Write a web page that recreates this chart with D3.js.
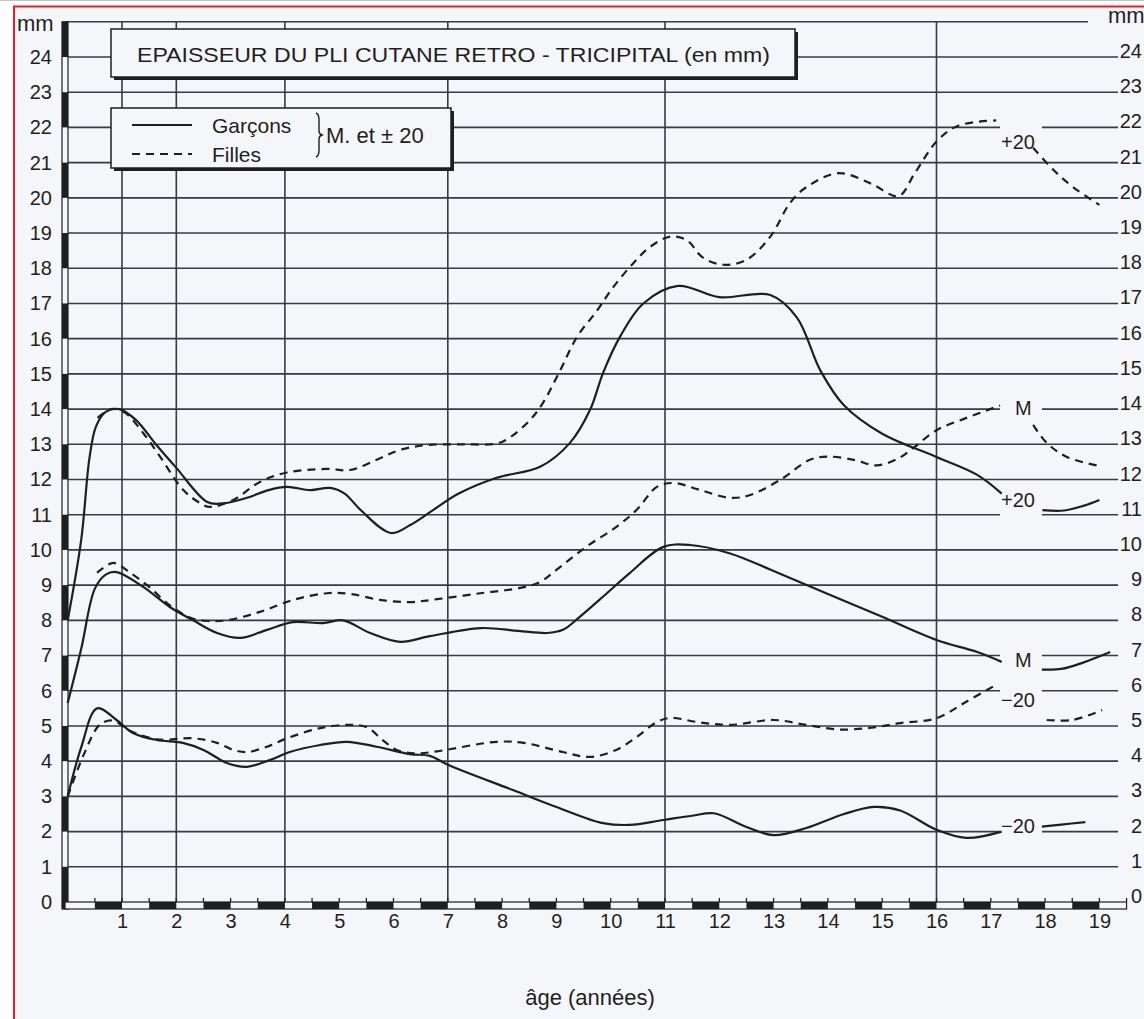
<!DOCTYPE html>
<html>
<head>
<meta charset="utf-8">
<script src="https://cdn.jsdelivr.net/npm/d3@7"></script>
<style>
  body { margin: 0; background: #fff; }
  svg { display: block; font-family: "Liberation Sans", Arial, sans-serif; }
</style>
</head>
<body>
<div id="chart"></div>
<script>
// ---- données (âge en années, épaisseur en mm) ----
const xTicks = [1, 2, 3, 4, 5, 6, 7, 8, 9, 10, 11, 12, 13, 14, 15, 16, 17, 18, 19];
const yTicks = [0, 1, 2, 3, 4, 5, 6, 7, 8, 9, 10, 11, 12, 13, 14, 15, 16, 17, 18, 19, 20, 21, 22, 23, 24];
const vGrid = [1, 2, 4, 7, 11, 16];          // lignes verticales pleines
const gapLines = [22, 14, 11, 7, 6, 2];      // lignes coupées par les étiquettes de droite

const title = "EPAISSEUR DU PLI CUTANE RETRO - TRICIPITAL (en mm)";
const legendItems = ["Garçons", "Filles"];
const legendNote = "M. et ± 20";
const xTitle = "âge (années)";

// Garçons (trait plein)
const boysPlus = [[0, 8.0], [0.25, 10.3], [0.4, 12.6], [0.52, 13.5], [0.7, 13.92], [0.95, 14.0], [1.25, 13.7],
  [1.65, 12.95], [2.0, 12.33], [2.57, 11.36], [2.85, 11.32], [3.3, 11.48], [3.7, 11.7], [4.04, 11.79],
  [4.47, 11.7], [4.83, 11.76], [5.1, 11.6], [5.39, 11.14], [5.95, 10.48], [6.3, 10.7], [6.7, 11.1],
  [7.2, 11.6], [7.9, 12.05], [8.7, 12.36], [9.25, 13.04], [9.62, 13.98], [9.86, 15.03], [10.17, 16.05],
  [10.6, 17.0], [11.24, 17.5], [12.0, 17.18], [12.94, 17.24], [13.43, 16.6], [13.86, 15.1], [14.3, 14.1],
  [15.0, 13.3], [16.0, 12.64], [16.75, 12.13], [17.2, 11.6]];
const boysPlusTail = [[17.95, 11.13], [18.35, 11.12], [18.7, 11.25], [19.0, 11.42]];

const boysM = [[0, 5.65], [0.25, 7.2], [0.5, 8.9], [0.7, 9.3], [0.9, 9.37], [1.39, 8.95], [1.88, 8.38],
  [2.31, 8.0], [2.75, 7.64], [3.18, 7.5], [3.67, 7.73], [4.15, 7.95], [4.7, 7.92], [5.07, 8.0], [5.57, 7.64],
  [6.12, 7.39], [6.67, 7.55], [7.6, 7.78], [8.3, 7.7], [8.83, 7.64], [9.12, 7.73], [9.43, 8.1], [9.93, 8.77],
  [10.35, 9.34], [10.96, 10.08], [11.46, 10.14], [12.2, 9.9], [13.0, 9.4], [14.0, 8.75], [15.0, 8.1],
  [16.0, 7.44], [16.75, 7.1], [17.2, 6.82]];
const boysMTail = [[17.94, 6.6], [18.3, 6.62], [18.7, 6.8], [19.2, 7.1]];

const boysMinus = [[0, 3.0], [0.25, 4.4], [0.54, 5.5], [0.9, 5.17], [1.2, 4.8], [1.64, 4.6], [2.12, 4.52],
  [2.5, 4.32], [2.93, 3.95], [3.3, 3.84], [3.72, 4.03], [4.09, 4.26], [4.65, 4.46], [5.14, 4.55], [5.69, 4.41],
  [6.3, 4.2], [6.67, 4.15], [7.0, 3.9], [8.2, 3.18], [9.0, 2.7], [9.86, 2.24], [10.35, 2.19], [10.97, 2.33],
  [11.5, 2.45], [11.9, 2.52], [12.5, 2.13], [13.0, 1.9], [13.6, 2.1], [14.3, 2.5], [14.85, 2.7], [15.33, 2.6],
  [16.0, 2.05], [16.55, 1.82], [17.2, 2.0]];
const boysMinusTail = [[17.94, 2.14], [18.3, 2.2], [18.74, 2.27]];

// Filles (tirets)
const girlsPlus = [[0.55, 13.75], [0.8, 14.0], [1.05, 13.9], [1.4, 13.3], [1.7, 12.65], [2.13, 11.7],
  [2.44, 11.33], [2.62, 11.22], [3.05, 11.42], [3.54, 11.93], [4.04, 12.2], [4.77, 12.3], [5.2, 12.27],
  [5.69, 12.56], [6.12, 12.84], [6.62, 12.98], [7.3, 13.0], [7.9, 13.02], [8.15, 13.2], [8.52, 13.7],
  [8.75, 14.17], [9.07, 15.1], [9.38, 16.05], [9.75, 16.8], [10.05, 17.47], [10.42, 18.15], [10.72, 18.6],
  [11.1, 18.9], [11.4, 18.8], [11.7, 18.3], [12.07, 18.1], [12.5, 18.24], [12.94, 18.9], [13.3, 19.85],
  [13.6, 20.3], [14.2, 20.7], [14.8, 20.4], [15.3, 20.05], [15.6, 20.7], [16.0, 21.6], [16.4, 22.05],
  [17.1, 22.2]];
const girlsPlusTail = [[17.78, 21.42], [18.15, 20.8], [18.52, 20.3], [19.0, 19.8]];

const girlsM = [[0.54, 9.35], [0.84, 9.63], [1.15, 9.35], [1.5, 8.95], [1.9, 8.4], [2.3, 8.05], [2.6, 7.98],
  [2.93, 8.0], [3.54, 8.24], [4.15, 8.58], [4.77, 8.77], [5.2, 8.75], [5.75, 8.58], [6.3, 8.52], [6.8, 8.6],
  [7.6, 8.77], [8.33, 8.92], [8.7, 9.09], [9.0, 9.43], [9.55, 10.09], [10.1, 10.65], [10.48, 11.14],
  [10.85, 11.79], [11.16, 11.9], [11.65, 11.7], [12.2, 11.48], [12.57, 11.56], [13.12, 11.99], [13.67, 12.56],
  [14.0, 12.65], [14.5, 12.55], [14.9, 12.4], [15.3, 12.6], [15.6, 12.93], [16.0, 13.4], [16.55, 13.75],
  [17.17, 14.1]];
const girlsMTail = [[17.78, 13.55], [18.03, 13.04], [18.4, 12.64], [18.95, 12.4]];

const girlsMinus = [[0, 3.0], [0.3, 4.2], [0.6, 5.05], [0.85, 5.15], [1.1, 4.9], [1.64, 4.62], [2.31, 4.65],
  [2.75, 4.52], [3.05, 4.32], [3.3, 4.26], [3.67, 4.41], [4.04, 4.65], [4.65, 4.94], [5.14, 5.03], [5.5, 4.97],
  [5.8, 4.6], [6.06, 4.32], [6.4, 4.22], [6.8, 4.28], [7.9, 4.55], [8.4, 4.52], [9.12, 4.26], [9.62, 4.12],
  [10.1, 4.32], [10.48, 4.69], [10.85, 5.11], [11.1, 5.23], [11.6, 5.11], [12.2, 5.03], [13.0, 5.17],
  [13.6, 5.03], [14.2, 4.9], [14.8, 4.95], [15.33, 5.08], [16.0, 5.22], [16.55, 5.69], [17.1, 6.17]];
const girlsMinusTail = [[18.03, 5.17], [18.5, 5.17], [19.05, 5.45]];

// étiquettes en bout de courbe : texte, âge, valeur
const endLabels = [["+20", 17.5, 21.6], ["M", 17.6, 14.05], ["+20", 17.5, 11.42],
  ["M", 17.6, 6.88], ["\u221220", 17.5, 5.74], ["\u221220", 17.5, 2.16]];

(function () {
  const width = 1144, height = 1019;
  const paper = "#f4f6fa";
  const ink = "#1f1f22";
  const gridInk = "#3a3a42";

  const x = d3.scaleLinear().domain([0, 19]).range([67.7, 1099.4]);
  const y = d3.scaleLinear().domain([0, 25]).range([902, 21.8]);

  const svg = d3.select("#chart").append("svg")
    .attr("width", width).attr("height", height);

  // fond et cadre du scan
  svg.append("rect").attr("width", width).attr("height", height).attr("fill", "#fff");
  svg.append("rect").attr("x", 15).attr("y", 7).attr("width", width - 15).attr("height", height - 7).attr("fill", paper);
  svg.append("line").attr("x1", 0).attr("x2", width).attr("y1", 0.5).attr("y2", 0.5).attr("stroke", "#c4c4c4");
  svg.append("path").attr("d", `M14,${height}V6.5H${width}`).attr("fill", "none").attr("stroke", "#ee1c24").attr("stroke-width", 2);

  const grid = svg.append("g").attr("stroke", gridInk).attr("stroke-width", 1.6);

  // lignes horizontales
  yTicks.filter(v => v > 0).forEach(v => {
    const segs = gapLines.includes(v) ? [[68, 1000], [1042, 1118]] : [[68, 1118]];
    segs.forEach(s => grid.append("line")
      .attr("x1", s[0]).attr("x2", s[1]).attr("y1", y(v)).attr("y2", y(v)));
  });
  grid.append("line").attr("x1", 65).attr("x2", 1088).attr("y1", y(25)).attr("y2", y(25));

  // lignes verticales
  vGrid.forEach(a => grid.append("line")
    .attr("x1", x(a)).attr("x2", x(a)).attr("y1", y(25)).attr("y2", y(0)));

  // axe vertical en barre alternée
  const yBar = svg.append("g");
  yBar.append("rect").attr("x", 62).attr("y", y(25)).attr("width", 6).attr("height", y(0) + 7 - y(25))
    .attr("fill", paper).attr("stroke", ink).attr("stroke-width", 1.2);
  d3.range(0, 25).filter(k => k % 2 === 0).forEach(k => yBar.append("rect")
    .attr("x", 62).attr("y", y(k + 1)).attr("width", 6).attr("height", y(k) - y(k + 1))
    .attr("fill", ink));
  yBar.append("rect").attr("x", 62).attr("y", y(0)).attr("width", 6).attr("height", 7).attr("fill", ink);

  // axe horizontal en barre alternée
  const xBar = svg.append("g");
  xBar.append("rect").attr("x", 65).attr("y", y(0)).attr("width", x(19.5) - 65).attr("height", 7)
    .attr("fill", paper).attr("stroke", ink).attr("stroke-width", 1.2);
  d3.range(0, 19).forEach(k => xBar.append("rect")
    .attr("x", x(k + 0.5)).attr("y", y(0)).attr("width", x(k + 1) - x(k + 0.5)).attr("height", 7)
    .attr("fill", ink));
  d3.range(1, 40).forEach(k => xBar.append("line")
    .attr("x1", x(k / 2)).attr("x2", x(k / 2)).attr("y1", y(0) - 4).attr("y2", y(0))
    .attr("stroke", ink).attr("stroke-width", 1.3));

  // graduations
  const axisLeft = svg.append("g").attr("transform", "translate(65,0)")
    .call(d3.axisLeft(y).tickValues(yTicks).tickSize(0).tickPadding(13).tickFormat(d3.format("d")));
  axisLeft.select(".domain").remove();
  axisLeft.selectAll("text").attr("font-size", 20).attr("fill", ink)
    .attr("font-family", "'Liberation Sans', Arial, sans-serif");

  svg.append("g").selectAll("text").data(yTicks).join("text")
    .attr("x", 1142).attr("y", d => y(d) + 1).attr("text-anchor", "end")
    .attr("font-size", 20).attr("fill", ink).text(d => d);

  const axisBottom = svg.append("g").attr("transform", `translate(0,${y(0) + 7})`)
    .call(d3.axisBottom(x).tickValues(xTicks).tickSize(0).tickPadding(5).tickFormat(d3.format("d")));
  axisBottom.select(".domain").remove();
  axisBottom.selectAll("text").attr("font-size", 20).attr("fill", ink)
    .attr("font-family", "'Liberation Sans', Arial, sans-serif");

  svg.append("text").attr("x", 17).attr("y", 31).attr("font-size", 22).attr("fill", ink).text("mm");
  svg.append("text").attr("x", 1108).attr("y", 23).attr("font-size", 22).attr("fill", ink).text("mm");

  svg.append("text").attr("x", 590).attr("y", 1005).attr("text-anchor", "middle")
    .attr("font-size", 22).attr("fill", ink).text(xTitle);

  // courbes
  const line = d3.line().x(d => x(d[0])).y(d => y(d[1])).curve(d3.curveCatmullRom.alpha(0.5));
  const curves = svg.append("g").attr("fill", "none").attr("stroke", ink).attr("stroke-width", 2.2)
    .attr("stroke-linecap", "butt");
  [boysPlus, boysPlusTail, boysM, boysMTail, boysMinus, boysMinusTail].forEach(s =>
    curves.append("path").attr("d", line(s)));
  [girlsPlus, girlsPlusTail, girlsM, girlsMTail, girlsMinus, girlsMinusTail].forEach(s =>
    curves.append("path").attr("d", line(s)).attr("stroke-dasharray", "8,6"));

  svg.append("g").selectAll("text").data(endLabels).join("text")
    .attr("x", d => x(d[1])).attr("y", d => y(d[2])).attr("dy", "0.36em")
    .attr("text-anchor", "middle").attr("font-size", 20).attr("fill", ink).text(d => d[0]);

  // encadré du titre
  const box = (x0, y0, w, h) => {
    svg.append("rect").attr("x", x0 + 3).attr("y", y0 + 3).attr("width", w).attr("height", h).attr("fill", ink);
    svg.append("rect").attr("x", x0).attr("y", y0).attr("width", w).attr("height", h)
      .attr("fill", paper).attr("stroke", ink).attr("stroke-width", 1.5);
  };
  box(111, 29, 684, 48);
  svg.append("text").attr("x", 137).attr("y", 54).attr("dy", "0.36em")
    .attr("font-size", 21).attr("fill", ink)
    .attr("textLength", 633).attr("lengthAdjust", "spacingAndGlyphs").text(title);

  // légende
  box(111, 108, 340, 60);
  const lg = svg.append("g");
  legendItems.forEach((t, i) => {
    const ly = 125 + i * 29;
    lg.append("line").attr("x1", 132).attr("x2", 192).attr("y1", ly).attr("y2", ly)
      .attr("stroke", ink).attr("stroke-width", 2.2).attr("stroke-dasharray", i ? "8,6" : null);
    lg.append("text").attr("x", 212).attr("y", ly).attr("dy", "0.36em")
      .attr("font-size", 21).attr("fill", ink).text(t);
  });
  lg.append("path").attr("d", "M316,113 Q319,114 319,120 L319,131 Q319,134 322,135 Q319,136 319,139 L319,150 Q319,156 316,157")
    .attr("fill", "none").attr("stroke", ink).attr("stroke-width", 1.4);
  lg.append("text").attr("x", 326).attr("y", 135).attr("dy", "0.36em")
    .attr("font-size", 22).attr("fill", ink).text(legendNote);
})();
</script>
</body>
</html>
